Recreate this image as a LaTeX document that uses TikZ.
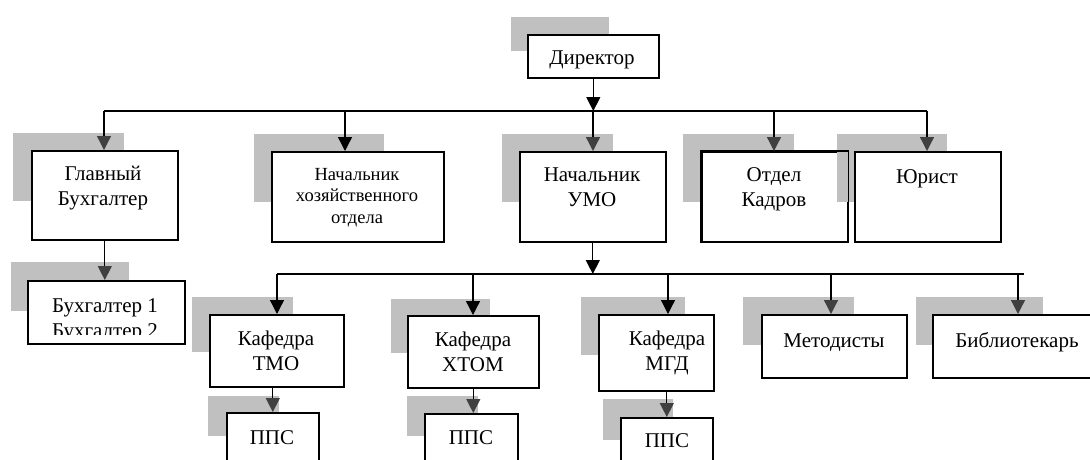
\documentclass[tikz,border=0pt]{standalone}
\usepackage{fontspec}
\setmainfont{Liberation Serif}
\usetikzlibrary{arrows.meta}
\definecolor{shade}{RGB}{192,192,192}
\definecolor{tipgray}{RGB}{64,64,64}
\begin{document}
\begin{tikzpicture}[x=1pt,y=-1pt,
  box/.style={draw=black, line width=1.6pt, fill=white, inner sep=0pt, anchor=north west},
  sh/.style={fill=shade},
  txt/.style={anchor=base, align=center, inner sep=0pt, font=\fontsize{21}{25}\selectfont},
  txts/.style={anchor=base, align=center, inner sep=0pt, font=\fontsize{18.5}{21.5}\selectfont},
  conn/.style={line width=1.3pt},
  arr/.style={conn, -{Triangle[width=14pt,length=14pt]}},
  arrg/.style={conn, -{Triangle[width=14pt,length=14pt,color=tipgray]}},
]
\useasboundingbox (0,0) rectangle (1090,459);
\clip (0,0) rectangle (1090,459);
\fill[white] (0,0) rectangle (1090,459);

% shadows
\fill[sh] (511,17) rectangle (609,51);
\fill[sh] (13,133) rectangle (124,201);
\fill[sh] (254,134) rectangle (384,202);
\fill[sh] (502,134) rectangle (613,202);
\fill[sh] (683,134) rectangle (794,202);
\fill[sh] (11,262) rectangle (129,311);
\fill[sh] (192,297) rectangle (293,352);
\fill[sh] (391,299) rectangle (490,353);
\fill[sh] (581,297) rectangle (685,355);
\fill[sh] (743,297) rectangle (854,345);
\fill[sh] (916,297) rectangle (1043,345);
\fill[sh] (208,396) rectangle (279,436);
\fill[sh] (407,396) rectangle (478,436);
\fill[sh] (603,399) rectangle (673,440);

% boxes
\node[box, minimum width=131pt, minimum height=43pt] (dir) at (527,34) {};
\node[box, minimum width=146pt, minimum height=89pt] (glav) at (31,150) {};
\node[box, minimum width=172pt, minimum height=90pt] (hoz) at (271,151) {};
\node[box, minimum width=146pt, minimum height=90pt] (umo) at (519,151) {};
\node[box, minimum width=146pt, minimum height=90pt] (kadr) at (701,151) {};
\fill[sh] (837,134) rectangle (947,202);
\node[box, minimum width=146pt, minimum height=90pt] (jur) at (854,151) {};
\draw[line width=1.6pt] (kadr.north west) rectangle (kadr.south east);
\node[box, minimum width=157pt, minimum height=63pt] (buh) at (27,280) {};
\node[box, minimum width=134pt, minimum height=72pt] (kaf1) at (209,314) {};
\node[box, minimum width=131pt, minimum height=72pt] (kaf2) at (407,315) {};
\node[box, minimum width=115pt, minimum height=76pt] (kaf3) at (598,314) {};
\node[box, minimum width=145pt, minimum height=63pt] (met) at (761,314) {};
\node[box, minimum width=170pt, minimum height=63pt] (bib) at (932,314) {};
\node[box, minimum width=92pt, minimum height=60pt] (pps1) at (226,412) {};
\node[box, minimum width=93pt, minimum height=60pt] (pps2) at (424,413) {};
\node[box, minimum width=92pt, minimum height=60pt] (pps3) at (620,417) {};

% texts (anchor = baseline of the last line)
\node[txt] (tdir) at (592,64) {Директор};
\node[txt] (tglav) at (103,205) {Главный\\Бухгалтер};
\node[txts] (thoz) at (357,223) {Начальник\\хозяйственного\\отдела};
\node[txt] (tumo) at (592,206) {Начальник\\УМО};
\node[txt] (tkadr) at (774,206) {Отдел\\Кадров};
\node[txt] (tjur) at (927,183) {Юрист};
\begin{scope}
  \clip (27,280) rectangle (184,334);
  \node[txt] (tbuh) at (105,337) {Бухгалтер 1\\Бухгалтер 2};
\end{scope}
\node[txt] (tkaf1) at (276,370) {Кафедра\\ТМО};
\node[txt] (tkaf2) at (473,371) {Кафедра\\ХТОМ};
\node[txt] (tkaf3) at (667,370) {Кафедра\\МГД};
\node[txt] (tmet) at (834,347) {Методисты};
\node[txt] (tbib) at (1017,347) {Библиотекарь};
\node[txt] (tpps1) at (272,444) {ППС};
\node[txt] (tpps2) at (471,444) {ППС};
\node[txt] (tpps3) at (667,447) {ППС};

% top bus
\coordinate (t1) at (104,111);
\coordinate (t2) at (345,111);
\coordinate (t3) at (593,111);
\coordinate (t4) at (774,111);
\coordinate (t5) at (927,111);
\draw[conn] (t1) -- (t5);
\draw[arr] (dir.south) -- (dir.south |- t3);
\draw[arrg] (t1) -- (t1 |- glav.north);
\draw[arr] (t2) -- (t2 |- hoz.north);
\draw[arrg] (t3) -- (t3 |- umo.north);
\draw[arrg] (t4) -- (t4 |- kadr.north);
\draw[arrg] (t5) -- (t5 |- jur.north);

% lower bus
\coordinate (b1) at (277,274);
\coordinate (b2) at (473,274);
\coordinate (b3) at (668,274);
\coordinate (b4) at (831,274);
\coordinate (b5) at (1018,274);
\coordinate (bend) at (1024,274);
\draw[conn] (b1) -- (bend);
\draw[arr] (umo.south) -- (umo.south |- b1);
\draw[arr] (b1) -- (b1 |- kaf1.north);
\draw[arr] (b2) -- (b2 |- kaf2.north);
\draw[arr] (b3) -- (b3 |- kaf3.north);
\draw[arrg] (b4) -- (b4 |- met.north);
\draw[arrg] (b5) -- (b5 |- bib.north);

% sub arrows
\draw[arrg] (glav.south) -- (glav.south |- buh.north);
\draw[arrg] (kaf1.south -| pps1.north) -- (pps1.north);
\draw[arrg] (kaf2.south) -- (kaf2.south |- pps2.north);
\draw[arrg] (kaf3.south -| pps3.north) -- (pps3.north);
\end{tikzpicture}
\end{document}
